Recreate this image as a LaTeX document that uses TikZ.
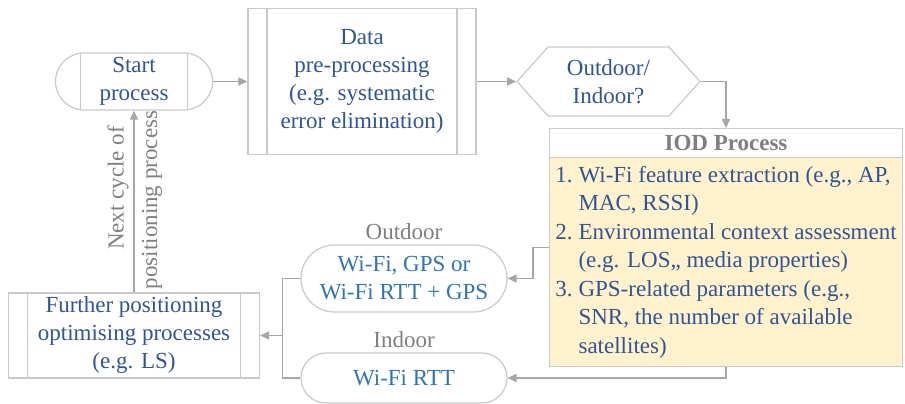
\documentclass[tikz,border=0pt]{standalone}
\usepackage{fontspec}
\setmainfont{Liberation Serif}
\usetikzlibrary{shapes.geometric, shapes.misc, shapes.symbols, shapes.multipart,
                arrows.meta, positioning}
\definecolor{iodblue}{HTML}{2F5597}
\definecolor{iodsky}{HTML}{2E75B6}
\definecolor{iodline}{HTML}{C9C9C9}
\definecolor{iodarrow}{HTML}{A6A6A6}
\definecolor{iodlabel}{HTML}{7F7F7F}
\definecolor{iodcream}{HTML}{FFF2CC}
\newcommand{\iodfont}{\fontsize{23}{28}\selectfont}

\begin{document}
\begin{tikzpicture}[x=1pt, y=1pt,
    proc/.style={rectangle, draw=iodline, line width=1.2pt, align=center,
                 text=iodblue, font=\iodfont, inner sep=0pt},
    bars/.style={path picture={\draw[iodline, line width=1.2pt]
        ([xshift=#1]path picture bounding box.north west) -- ([xshift=#1]path picture bounding box.south west)
        ([xshift=-#1]path picture bounding box.north east) -- ([xshift=-#1]path picture bounding box.south east);}},
    term/.style={rounded rectangle, draw=iodline, line width=1.2pt, align=center,
                 text=iodsky, font=\iodfont, inner sep=0pt},
    tag/.style={text=iodlabel, font=\iodfont, inner sep=0pt},
    link/.style={draw=iodarrow, line width=1.6pt},
    flow/.style={link, -{Triangle[length=9pt, width=8pt]}}
]
\useasboundingbox (0,0) rectangle (905,404);

\node[term, bars=25pt, text=iodblue, minimum width=157pt, minimum height=57pt] (start) at (134, 322.5) {Start\\process};
\node[proc, bars=19pt, minimum width=228pt, minimum height=146pt] (prep) at (362, 322.5)
     {Data\\pre-processing\\(e.g. systematic\\error elimination)};
\node[signal, signal to=west and east, signal pointer angle=96, draw=iodline, line width=1.2pt,
      align=center, text=iodblue, font=\iodfont, inner sep=0pt,
      minimum width=183pt, minimum height=69pt] (env) at (608.5, 322.5) {Outdoor/\\Indoor?};

\node[rectangle split, rectangle split parts=2, rectangle split part fill={white, iodcream},
      draw=iodline, line width=1.2pt, font=\iodfont, inner xsep=6pt, inner ysep=4pt,
      anchor=north] (iod) at (726, 276)
     {\textcolor{iodlabel}{\bfseries\rule[-3pt]{0pt}{20pt}IOD Process}%
      \nodepart{two}\fontsize{23}{28.5}\selectfont\color{iodblue}%
      \begin{tabular}{@{}l@{\hspace{6pt}}l@{}}
      1. & Wi-Fi feature extraction (e.g., AP,\\
         & MAC, RSSI)\\
      2. & Environmental context assessment\\
         & (e.g. LOS,, media properties)\\
      3. & GPS-related parameters (e.g.,\\
         & SNR, the number of available\\
         & satellites)
      \end{tabular}};

\node[term, minimum width=206pt, minimum height=67pt] (outdoor) at (404, 125.5) {Wi-Fi, GPS or\\Wi-Fi RTT + GPS};
\node[term, minimum width=206pt, minimum height=50pt] (indoor) at (404, 26) {Wi-Fi RTT};
\node[tag, above=4pt of outdoor] (outlbl) {Outdoor};
\node[tag, above=4pt of indoor] (inlbl) {Indoor};

\node[proc, bars=19pt, minimum width=251pt, minimum height=85pt] (further) at (134, 68.5)
     {Further positioning\\optimising processes\\(e.g. LS)};
\node[tag, rotate=90] (nextlbl) at (118, 216) {Next cycle of};
\node[tag, rotate=90] (cyclelbl) at (152, 204) {positioning process};

\draw[flow] (start.east) -- (prep.west);
\draw[flow] (prep.east) -- (env.west);
\draw[flow] (env.east) -| (iod.north);
\draw[flow] (iod.west) -- ++(-16,0) |- (outdoor.east);
\draw[flow] (iod.south) |- (indoor.east);
\draw[link] (outdoor.west) -- ++(-18,0) coordinate (merge) |- (indoor.west);
\draw[flow] (merge |- further.east) -- (further.east);
\draw[flow] (further.north) -- (start.south);
\end{tikzpicture}
\end{document}
